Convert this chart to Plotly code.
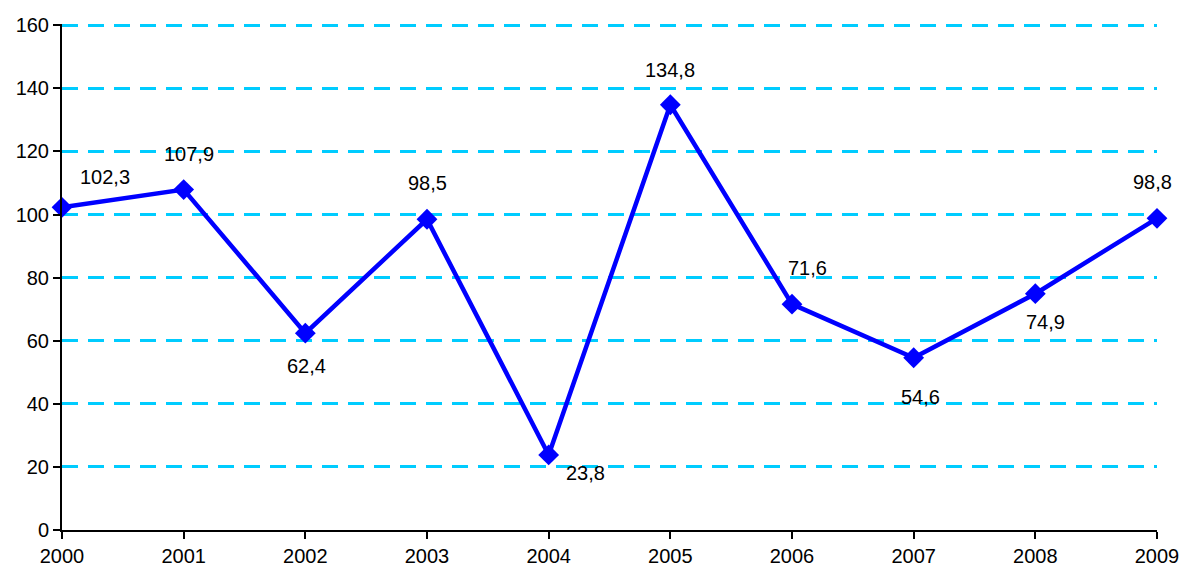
import plotly.graph_objects as go

years = [2000, 2001, 2002, 2003, 2004, 2005, 2006, 2007, 2008, 2009]
values = [102.3, 107.9, 62.4, 98.5, 23.8, 134.8, 71.6, 54.6, 74.9, 98.8]
# label offsets in pixels (dx, dy) relative to each point
label_dx = [43, 5, 1, 0, 37, 0, 15, 7, 10, -5]
label_dy = [-30, -36, 33, -36, 18, -35, -36, 39, 28, -36]

fig = go.Figure()
fig.add_trace(go.Scatter(
    x=years, y=values, mode="lines+markers",
    line=dict(color="#0000FF", width=4.5),
    marker=dict(symbol="diamond", size=16, color="#0000FF"),
    cliponaxis=False, hoverinfo="x+y",
))

for x, v, dx, dy in zip(years, values, label_dx, label_dy):
    fig.add_annotation(
        x=x, y=v, text=f"{v:.1f}".replace(".", ","),
        showarrow=False, xshift=dx, yshift=-dy,
        font=dict(size=20, color="black"),
    )

fig.update_layout(
    width=1182, height=569,
    margin=dict(l=62, r=25, t=24, b=39),
    paper_bgcolor="white", plot_bgcolor="white",
    showlegend=False,
    font=dict(family="Liberation Sans, Arial, sans-serif", size=20, color="black"),
)
fig.update_xaxes(
    range=[2000, 2009], tickmode="array", tickvals=years,
    showline=True, linecolor="black", linewidth=2,
    ticks="outside", ticklen=7, tickwidth=2, tickcolor="black",
    showgrid=False, zeroline=False, automargin=False,
)
# range slightly above 160 so the top grid line is drawn
fig.update_yaxes(
    range=[0, 160.4], tickmode="array", tickvals=list(range(0, 161, 20)),
    showline=True, linecolor="black", linewidth=2,
    ticks="outside", ticklen=7, tickwidth=2, tickcolor="black",
    showgrid=True, gridcolor="#00CCFF", gridwidth=2.5, griddash="16px,10px",
    zeroline=False, automargin=False,
)

fig.write_html(
    "out.html",
    config={"displayModeBar": False},
    post_script="document.body.style.margin='0';",
)
